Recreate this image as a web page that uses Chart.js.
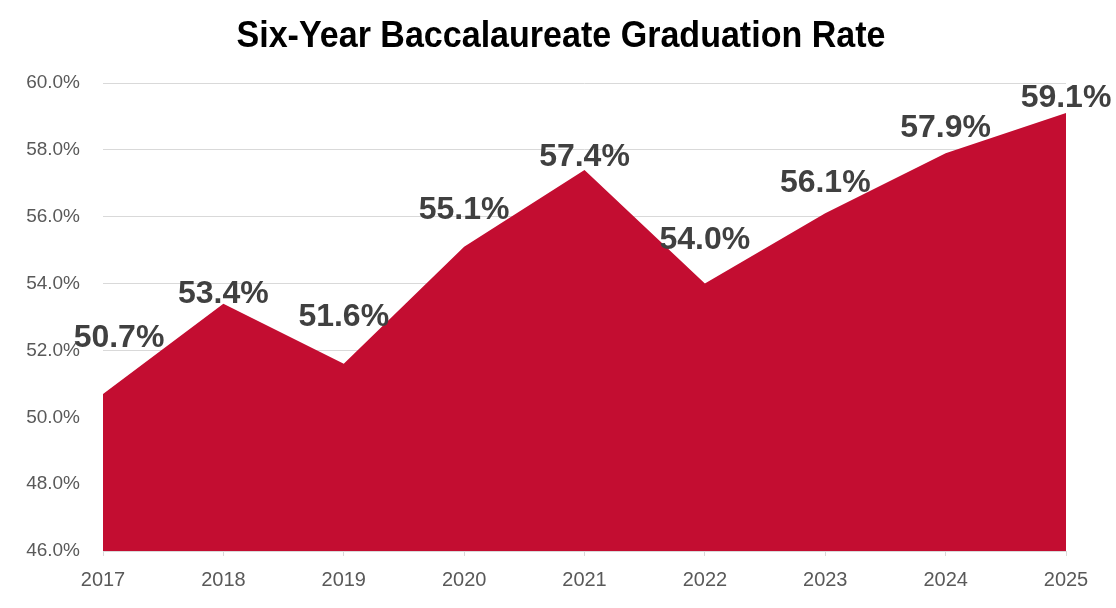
<!DOCTYPE html>
<html>
<head>
<meta charset="utf-8">
<script src="https://cdn.jsdelivr.net/npm/chart.js@4/dist/chart.umd.min.js"></script>
<style>
  html, body { margin: 0; padding: 0; background: #fff; }
  #wrap { width: 1116px; height: 608px; }
</style>
</head>
<body>
<div id="wrap"><canvas id="gradChart"></canvas></div>
<script>
const years = ["2017", "2018", "2019", "2020", "2021", "2022", "2023", "2024", "2025"];
const gradRates = [50.7, 53.4, 51.6, 55.1, 57.4, 54.0, 56.1, 57.9, 59.1];
const yTicks = [46, 48, 50, 52, 54, 56, 58, 60];
const chartTitle = 'Six-Year Baccalaureate Graduation Rate';

// where each value label sits relative to its point (px), picked by eye
const labelDx = [16, 0, 0, 0, 0, 0, 0, 0, 0];
const labelDy = [56, 9, 47, 37, 13, 43, 30, 25, 15];

const valueLabels = {
    id: 'valueLabels',
    afterDatasetsDraw(chart) {
        const ctx = chart.ctx;
        const meta = chart.getDatasetMeta(0);
        ctx.save();
        ctx.font = 'bold 32px "Liberation Sans", Arial, sans-serif';
        ctx.fillStyle = '#404040';
        ctx.textAlign = 'center';
        ctx.textBaseline = 'middle';
        meta.data.forEach(function(pt, i) {
            let txt = gradRates[i].toFixed(1) + '%';
            ctx.fillText(txt, pt.x + labelDx[i], pt.y - labelDy[i]);
        });
        ctx.restore();
    }
};

// title drawn by hand: centred on the whole canvas and a bit condensed
const squeezedTitle = {
    id: 'squeezedTitle',
    afterDraw(chart) {
        const ctx = chart.ctx;
        ctx.save();
        ctx.font = 'bold 37px "Liberation Sans", Arial, sans-serif';
        ctx.fillStyle = '#000';
        ctx.textAlign = 'center';
        ctx.textBaseline = 'alphabetic';
        ctx.translate(chart.width / 2 + 3, 47);
        ctx.scale(0.92, 1);
        ctx.fillText(chartTitle, 0, 0);
        ctx.restore();
    }
};

var ctx = document.getElementById('gradChart').getContext('2d');
var gradChart = new Chart(ctx, {
    type: 'line',
    data: {
        labels: years,
        datasets: [{
            data: gradRates,
            fill: 'start',
            backgroundColor: '#C30D31',
            borderWidth: 0,
            pointRadius: 0,
            tension: 0
        }]
    },
    options: {
        responsive: true,
        maintainAspectRatio: false,
        animation: false,
        layout: {
            padding: { left: 0, right: 50, top: 83, bottom: 4 }
        },
        plugins: {
            legend: { display: false },
            tooltip: { enabled: false },
            title: { display: false }
        },
        scales: {
            x: {
                offset: false,
                grid: {
                    display: true,
                    drawOnChartArea: false,
                    drawTicks: true,
                    tickLength: 5,
                    color: '#D9D9D9'
                },
                border: { display: true, color: '#D9D9D9' },
                ticks: {
                    color: '#595959',
                    padding: 12,
                    maxRotation: 0,
                    font: { family: '"Liberation Sans", Arial, sans-serif', size: 20 }
                }
            },
            y: {
                min: 46,
                max: 60,
                afterFit: function(scale) { scale.width = 103; },
                afterBuildTicks: function(scale) {
                    scale.ticks = yTicks.map(v => ({ value: v }));
                },
                grid: {
                    color: '#D9D9D9',
                    drawTicks: false
                },
                border: { display: false },
                ticks: {
                    color: '#595959',
                    padding: 23,
                    font: { family: '"Liberation Sans", Arial, sans-serif', size: 19 },
                    callback: function(v) { return v.toFixed(1) + '%'; }
                }
            }
        }
    },
    plugins: [valueLabels, squeezedTitle]
});
</script>
</body>
</html>
